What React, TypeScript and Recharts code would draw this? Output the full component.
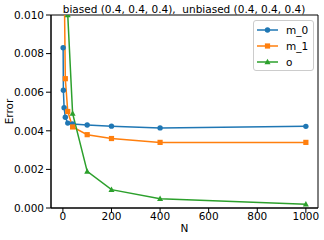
import React from "react";
import {
  LineChart,
  Line,
  XAxis,
  YAxis,
  Legend,
  ReferenceArea,
} from "recharts";

const N_VALUES = [1, 2, 5, 10, 20, 40, 100, 200, 400, 1000];
const M0 = [0.0083, 0.0061, 0.0052, 0.0047, 0.0044, 0.00435, 0.0043, 0.00424, 0.00415, 0.00423];
const M1 = [0.035, 0.02, 0.0122, 0.0067, 0.005, 0.0042, 0.0038, 0.0036, 0.0034, 0.0034];
const O = [0.08, 0.05, 0.03, 0.02, 0.01, 0.0049, 0.0019, 0.00095, 0.00048, 0.0002];

const X_TICKS = [0, 200, 400, 600, 800, 1000];
const Y_TICKS = [0, 0.002, 0.004, 0.006, 0.008, 0.01];
const X_DOMAIN: [number, number] = [-48.95, 1049.95];
const Y_DOMAIN: [number, number] = [0, 0.01];

const TITLE = "biased (0.4, 0.4, 0.4),  unbiased (0.4, 0.4, 0.4)";

const FONT = "'DejaVu Sans', sans-serif";
const FS = 10.5;

type Shape = "circle" | "square" | "triangle";

const SERIES: { key: string; color: string; shape: Shape }[] = [
  { key: "m_0", color: "#1f77b4", shape: "circle" },
  { key: "m_1", color: "#ff7f0e", shape: "square" },
  { key: "o", color: "#2ca02c", shape: "triangle" },
];

const data = N_VALUES.map((n, i) => ({ n, m_0: M0[i], m_1: M1[i], o: O[i] }));

function Marker({ cx, cy, shape, color }: { cx: number; cy: number; shape: Shape; color: string }) {
  if (shape === "square") {
    return <rect x={cx - 2.6} y={cy - 2.6} width={5.2} height={5.2} fill={color} />;
  }
  if (shape === "triangle") {
    return (
      <polygon
        points={`${cx},${cy - 3.2} ${cx - 3},${cy + 2.3} ${cx + 3},${cy + 2.3}`}
        fill={color}
      />
    );
  }
  return <circle cx={cx} cy={cy} r={2.7} fill={color} />;
}

const makeDot = (shape: Shape, color: string) => (props: any) => {
  const { cx, cy, index } = props;
  if (cx == null || cy == null) return <g key={index} />;
  return <Marker key={index} cx={cx} cy={cy} shape={shape} color={color} />;
};

function LegendBox() {
  return (
    <div
      style={{
        boxSizing: "border-box",
        width: 61,
        height: 51,
        border: "1px solid #cccccc",
        borderRadius: 3,
        background: "rgba(255,255,255,0.8)",
        paddingTop: 1.5,
        fontFamily: FONT,
        fontSize: FS,
        color: "#000",
      }}
    >
      {SERIES.map((s) => (
        <div key={s.key} style={{ display: "flex", alignItems: "center", height: 15.7 }}>
          <svg width={21} height={12} style={{ marginLeft: 3, display: "block" }}>
            <line x1={0} y1={6} x2={21} y2={6} stroke={s.color} strokeWidth={1.5} />
            <Marker cx={10.5} cy={6} shape={s.shape} color={s.color} />
          </svg>
          <span style={{ marginLeft: 8, lineHeight: "12px" }}>{s.key}</span>
        </div>
      ))}
    </div>
  );
}

export default function App() {
  const tick = { fontSize: FS, fill: "#000", fontFamily: FONT };
  return (
    <div style={{ position: "absolute", left: 0, top: 0, width: 324, height: 240, background: "#fff" }}>
      <div
        style={{
          position: "absolute",
          left: 51,
          top: 3,
          width: 266,
          textAlign: "center",
          fontFamily: FONT,
          fontSize: FS,
          lineHeight: "12px",
          whiteSpace: "pre",
          color: "#000",
          zIndex: 2,
        }}
      >
        {TITLE}
      </div>
      <LineChart width={324} height={240} data={data} margin={{ top: 15, right: 6, left: 0, bottom: 0 }}>
        <XAxis
          dataKey="n"
          type="number"
          domain={X_DOMAIN}
          ticks={X_TICKS}
          allowDataOverflow
          height={32}
          tick={tick}
          tickSize={5}
          tickMargin={0}
          stroke="#000"
          interval={0}
          label={{
            content: (p: any) => {
              const vb = p.viewBox;
              return (
                <text
                  x={vb.x + vb.width / 2}
                  y={vb.y + 24}
                  textAnchor="middle"
                  fontSize={FS}
                  fontFamily={FONT}
                  fill="#000"
                >
                  N
                </text>
              );
            },
          }}
        />
        <YAxis
          type="number"
          domain={Y_DOMAIN}
          ticks={Y_TICKS}
          allowDataOverflow
          width={51}
          tick={tick}
          tickSize={5}
          tickMargin={2}
          stroke="#000"
          interval={0}
          tickFormatter={(v: number) => v.toFixed(3)}
          label={{
            content: (p: any) => {
              const vb = p.viewBox;
              const x = vb.x + 13;
              const y = vb.y + vb.height / 2;
              return (
                <text
                  x={x}
                  y={y}
                  transform={`rotate(-90, ${x}, ${y})`}
                  textAnchor="middle"
                  fontSize={FS}
                  fontFamily={FONT}
                  fill="#000"
                >
                  Error
                </text>
              );
            },
          }}
        />
        <ReferenceArea
          x1={X_DOMAIN[0]}
          x2={X_DOMAIN[1]}
          y1={Y_DOMAIN[0]}
          y2={Y_DOMAIN[1]}
          ifOverflow="visible"
          fill="none"
          fillOpacity={0}
          stroke="#000"
          strokeWidth={1}
        />
        <Legend
          layout="vertical"
          align="center"
          verticalAlign="middle"
          wrapperStyle={{ left: 253, top: 20, width: 61, height: 51 }}
          content={() => <LegendBox />}
        />
        {SERIES.map((s) => (
          <Line
            key={s.key}
            dataKey={s.key}
            type="linear"
            stroke={s.color}
            strokeWidth={1.5}
            dot={makeDot(s.shape, s.color)}
            activeDot={false}
            isAnimationActive={false}
          />
        ))}
      </LineChart>
    </div>
  );
}
